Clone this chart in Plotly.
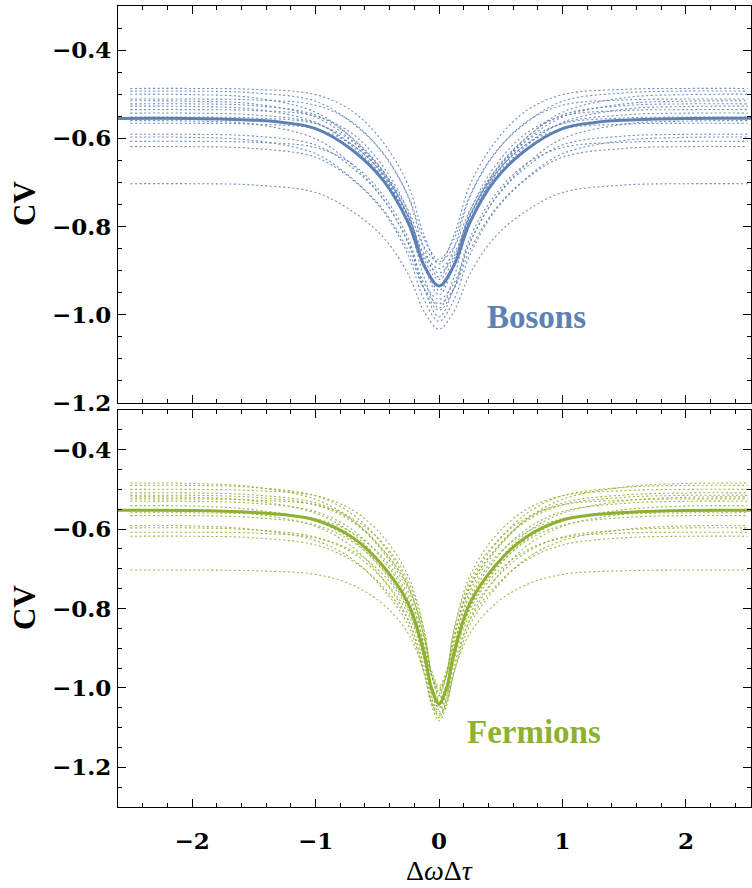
import plotly.graph_objects as go

# ---------------- data ----------------
X_B = [-2.5, -2.0, -1.5, -1.0, -0.7, -0.45, -0.25, -0.12, 0.0, 0.12, 0.25, 0.45, 0.7, 1.0, 1.5, 2.0, 2.5]
X_B_SOLID = [-2.7, -2.0, -1.5, -1.25, -1.0, -0.7, -0.45, -0.25, -0.12, 0.0, 0.12, 0.25, 0.45, 0.7, 1.0, 1.25, 1.5, 2.0, 2.7]
X_F = [-2.5, -2.0, -1.5, -1.0, -0.7, -0.45, -0.25, -0.12, -0.06, 0.0, 0.06, 0.12, 0.25, 0.45, 0.7, 1.0, 1.5, 2.0, 2.5]
X_F_SOLID = [-2.7, -2.0, -1.5, -1.25, -1.0, -0.7, -0.45, -0.25, -0.12, -0.06, 0.0, 0.06, 0.12, 0.25, 0.45, 0.7, 1.0, 1.25, 1.5, 2.0, 2.7]

bosons_mean = [-0.555, -0.555, -0.559, -0.5645, -0.578, -0.627, -0.696, -0.791, -0.889, -0.935, -0.889, -0.791, -0.696, -0.627, -0.578, -0.5645, -0.559, -0.555, -0.555]

bosons_samples = [
    [-0.487, -0.487, -0.489, -0.501, -0.539, -0.610, -0.706, -0.821, -0.885, -0.821, -0.706, -0.610, -0.539, -0.501, -0.489, -0.487, -0.487],
    [-0.493, -0.493, -0.497, -0.516, -0.566, -0.634, -0.730, -0.829, -0.875, -0.829, -0.730, -0.634, -0.566, -0.516, -0.497, -0.493, -0.493],
    [-0.500, -0.501, -0.508, -0.541, -0.601, -0.678, -0.775, -0.869, -0.905, -0.869, -0.775, -0.678, -0.601, -0.541, -0.508, -0.501, -0.500],
    [-0.511, -0.511, -0.513, -0.525, -0.564, -0.636, -0.733, -0.850, -0.915, -0.850, -0.733, -0.636, -0.564, -0.525, -0.513, -0.511, -0.511],
    [-0.515, -0.516, -0.522, -0.552, -0.606, -0.676, -0.763, -0.847, -0.880, -0.847, -0.763, -0.676, -0.606, -0.552, -0.522, -0.516, -0.515],
    [-0.522, -0.522, -0.526, -0.547, -0.600, -0.675, -0.778, -0.885, -0.935, -0.885, -0.778, -0.675, -0.600, -0.547, -0.526, -0.522, -0.522],
    [-0.527, -0.528, -0.534, -0.564, -0.619, -0.689, -0.777, -0.862, -0.895, -0.862, -0.777, -0.689, -0.619, -0.564, -0.534, -0.528, -0.527],
    [-0.535, -0.535, -0.537, -0.550, -0.590, -0.665, -0.766, -0.888, -0.955, -0.888, -0.766, -0.665, -0.590, -0.550, -0.537, -0.535, -0.535],
    [-0.543, -0.543, -0.547, -0.566, -0.615, -0.682, -0.777, -0.875, -0.920, -0.875, -0.777, -0.682, -0.615, -0.566, -0.547, -0.543, -0.543],
    [-0.552, -0.552, -0.554, -0.567, -0.608, -0.686, -0.790, -0.916, -0.985, -0.916, -0.790, -0.686, -0.608, -0.567, -0.554, -0.552, -0.552],
    [-0.560, -0.561, -0.568, -0.601, -0.661, -0.738, -0.835, -0.929, -0.965, -0.929, -0.835, -0.738, -0.661, -0.601, -0.568, -0.561, -0.560],
    [-0.566, -0.566, -0.568, -0.579, -0.615, -0.683, -0.774, -0.884, -0.945, -0.884, -0.774, -0.683, -0.615, -0.579, -0.568, -0.566, -0.566],
    [-0.591, -0.591, -0.595, -0.615, -0.667, -0.739, -0.838, -0.942, -0.990, -0.942, -0.838, -0.739, -0.667, -0.615, -0.595, -0.591, -0.591],
    [-0.597, -0.598, -0.605, -0.635, -0.692, -0.763, -0.854, -0.941, -0.975, -0.941, -0.854, -0.763, -0.692, -0.635, -0.605, -0.598, -0.597],
    [-0.607, -0.607, -0.609, -0.621, -0.659, -0.730, -0.826, -0.941, -1.005, -0.941, -0.826, -0.730, -0.659, -0.621, -0.609, -0.607, -0.607],
    [-0.619, -0.619, -0.623, -0.643, -0.694, -0.766, -0.865, -0.967, -1.015, -0.967, -0.865, -0.766, -0.694, -0.643, -0.623, -0.619, -0.619],
    [-0.703, -0.703, -0.706, -0.723, -0.766, -0.825, -0.908, -0.993, -1.033, -0.993, -0.908, -0.825, -0.766, -0.723, -0.706, -0.703, -0.703],
]

fermions_mean = [-0.553, -0.553, -0.558, -0.564, -0.577, -0.621, -0.694, -0.787, -0.913, -1.001, -1.040, -1.001, -0.913, -0.787, -0.694, -0.621, -0.577, -0.564, -0.558, -0.553, -0.553]

fermions_samples = [
    [-0.484, -0.485, -0.494, -0.525, -0.577, -0.659, -0.757, -0.892, -0.969, -1.000, -0.969, -0.892, -0.757, -0.659, -0.577, -0.525, -0.494, -0.485, -0.484],
    [-0.490, -0.490, -0.495, -0.516, -0.563, -0.641, -0.740, -0.875, -0.968, -1.010, -0.968, -0.875, -0.740, -0.641, -0.563, -0.516, -0.495, -0.490, -0.490],
    [-0.500, -0.500, -0.503, -0.516, -0.552, -0.620, -0.718, -0.854, -0.968, -1.020, -0.968, -0.854, -0.718, -0.620, -0.552, -0.516, -0.503, -0.500, -0.500],
    [-0.509, -0.509, -0.514, -0.534, -0.578, -0.653, -0.747, -0.876, -0.965, -1.005, -0.965, -0.876, -0.747, -0.653, -0.578, -0.534, -0.514, -0.509, -0.509],
    [-0.515, -0.515, -0.520, -0.539, -0.582, -0.654, -0.745, -0.870, -0.957, -0.995, -0.957, -0.870, -0.745, -0.654, -0.582, -0.539, -0.520, -0.515, -0.515],
    [-0.519, -0.520, -0.529, -0.560, -0.611, -0.693, -0.790, -0.923, -0.999, -1.030, -0.999, -0.923, -0.790, -0.693, -0.611, -0.560, -0.529, -0.520, -0.519],
    [-0.524, -0.524, -0.527, -0.539, -0.573, -0.637, -0.730, -0.858, -0.966, -1.015, -0.966, -0.858, -0.730, -0.637, -0.573, -0.539, -0.527, -0.524, -0.524],
    [-0.530, -0.530, -0.535, -0.556, -0.602, -0.679, -0.777, -0.911, -1.004, -1.045, -1.004, -0.911, -0.777, -0.679, -0.602, -0.556, -0.535, -0.530, -0.530],
    [-0.541, -0.542, -0.551, -0.580, -0.628, -0.706, -0.798, -0.923, -0.996, -1.025, -0.996, -0.923, -0.798, -0.706, -0.628, -0.580, -0.551, -0.542, -0.541],
    [-0.552, -0.553, -0.562, -0.593, -0.645, -0.728, -0.827, -0.961, -1.039, -1.070, -1.039, -0.961, -0.827, -0.728, -0.645, -0.593, -0.562, -0.553, -0.552],
    [-0.559, -0.559, -0.562, -0.574, -0.609, -0.673, -0.767, -0.896, -1.005, -1.055, -1.005, -0.896, -0.767, -0.673, -0.609, -0.574, -0.562, -0.559, -0.559],
    [-0.566, -0.566, -0.571, -0.590, -0.632, -0.702, -0.791, -0.913, -0.997, -1.035, -0.997, -0.913, -0.791, -0.702, -0.632, -0.590, -0.571, -0.566, -0.566],
    [-0.591, -0.592, -0.601, -0.629, -0.676, -0.752, -0.842, -0.965, -1.037, -1.065, -1.037, -0.965, -0.842, -0.752, -0.676, -0.629, -0.601, -0.592, -0.591],
    [-0.597, -0.597, -0.602, -0.620, -0.660, -0.728, -0.814, -0.932, -1.014, -1.050, -1.014, -0.932, -0.814, -0.728, -0.660, -0.620, -0.602, -0.597, -0.597],
    [-0.608, -0.608, -0.610, -0.622, -0.655, -0.715, -0.804, -0.926, -1.028, -1.075, -1.028, -0.926, -0.804, -0.715, -0.655, -0.622, -0.610, -0.608, -0.608],
    [-0.618, -0.618, -0.622, -0.640, -0.680, -0.746, -0.830, -0.945, -1.025, -1.060, -1.025, -0.945, -0.830, -0.746, -0.680, -0.640, -0.622, -0.618, -0.618],
    [-0.703, -0.703, -0.705, -0.714, -0.741, -0.790, -0.863, -0.961, -1.045, -1.083, -1.045, -0.961, -0.863, -0.790, -0.741, -0.714, -0.705, -0.703, -0.703],
]

Y_TICKS = [-1.2, -1.0, -0.8, -0.6, -0.4]
X_TICKS = [-2, -1, 0, 1, 2]
LABEL_BOSONS = "Bosons"
LABEL_FERMIONS = "Fermions"
Y_TITLE = "CV"
X_TITLE = "Δ<i>ω</i>Δ<i>τ</i>"

# ---------------- style ----------------
BLUE = "#5E81B5"
GREEN = "#8FB032"
SERIF = "Liberation Serif"
TICK_FONT_FAMILY = "DejaVu Serif"

fig = go.Figure()

def add_panel(xs, samples, xs_solid, mean, color, xa, ya):
    for ys in samples:
        fig.add_trace(go.Scatter(
            x=xs, y=ys, mode="lines", xaxis=xa, yaxis=ya,
            line=dict(color=color, width=1.1, dash="2px,2.5px", shape="spline", smoothing=1.0),
            opacity=0.9, showlegend=False, hoverinfo="skip"))
    fig.add_trace(go.Scatter(
        x=xs_solid, y=mean, mode="lines", xaxis=xa, yaxis=ya,
        line=dict(color=color, width=3, shape="spline", smoothing=1.0),
        showlegend=False, hoverinfo="skip"))

add_panel(X_B, bosons_samples, X_B_SOLID, bosons_mean, BLUE, "x", "y")
add_panel(X_F, fermions_samples, X_F_SOLID, fermions_mean, GREEN, "x2", "y2")

tickfont = dict(family=TICK_FONT_FAMILY, size=23, color="black", weight="bold")
common_x = dict(range=[-2.6, 2.527], tickvals=X_TICKS, ticks="inside", ticklen=8, tickwidth=1,
                tickcolor="black", showline=True, linecolor="black", linewidth=1.3,
                mirror="allticks", showgrid=False, zeroline=False, automargin=False,
                minor=dict(dtick=0.2, tick0=0, ticks="inside", ticklen=4, tickcolor="black", showgrid=False))
common_y = dict(tickvals=Y_TICKS, tickformat=".1f", ticks="inside", ticklen=8, tickwidth=1,
                tickcolor="black", showline=True, linecolor="black", linewidth=1.3,
                mirror="allticks", showgrid=False, zeroline=False, tickfont=tickfont,
                ticklabelstandoff=1, automargin=False,
                minor=dict(dtick=0.05, tick0=0, ticks="inside", ticklen=4, tickcolor="black", showgrid=False))

H_PLOT = 801.0
W_PLOT = 633.0
top_lo = (807 - 403) / H_PLOT
bot_hi = (807 - 410) / H_PLOT

fig.update_layout(
    width=752, height=888, autosize=False,
    margin=dict(l=118, r=1, t=6, b=81, autoexpand=False),
    paper_bgcolor="white", plot_bgcolor="white",
    xaxis=dict(common_x, anchor="y", domain=[0, 1], showticklabels=False),
    yaxis=dict(common_y, anchor="x", domain=[top_lo, 1], range=[-1.2003, -0.3]),
    xaxis2=dict(common_x, anchor="y2", domain=[0, 1], showticklabels=True, tickfont=tickfont,
                ticklabelstandoff=13),
    yaxis2=dict(common_y, anchor="x2", domain=[0, bot_hi], range=[-1.3, -0.3]),
)

fig.add_annotation(text=LABEL_BOSONS, x=0.79, y=-1.006, xref="x", yref="y", showarrow=False,
                   font=dict(family=SERIF, size=33, color=BLUE, weight="bold"))
fig.add_annotation(text=LABEL_FERMIONS, x=0.77, y=-1.11, xref="x2", yref="y2", showarrow=False,
                   font=dict(family=SERIF, size=33, color=GREEN, weight="bold"))

fig.add_annotation(text=Y_TITLE, textangle=-90, x=(24 - 118) / W_PLOT, y=(807 - 204) / H_PLOT,
                   xref="paper", yref="paper", showarrow=False, xanchor="center", yanchor="middle",
                   font=dict(family=SERIF, size=31, color="black", weight="bold"))
fig.add_annotation(text=Y_TITLE, textangle=-90, x=(24 - 118) / W_PLOT, y=(807 - 608) / H_PLOT,
                   xref="paper", yref="paper", showarrow=False, xanchor="center", yanchor="middle",
                   font=dict(family=SERIF, size=31, color="black", weight="bold"))
fig.add_annotation(text=X_TITLE, x=(439 - 118) / W_PLOT, y=-(870 - 807) / H_PLOT,
                   xref="paper", yref="paper", showarrow=False, xanchor="center", yanchor="middle",
                   font=dict(family=SERIF, size=28, color="black"))

fig.write_html("out.html", config={"displayModeBar": False},
               post_script="document.body.style.margin='0';document.body.style.overflow='hidden';")
